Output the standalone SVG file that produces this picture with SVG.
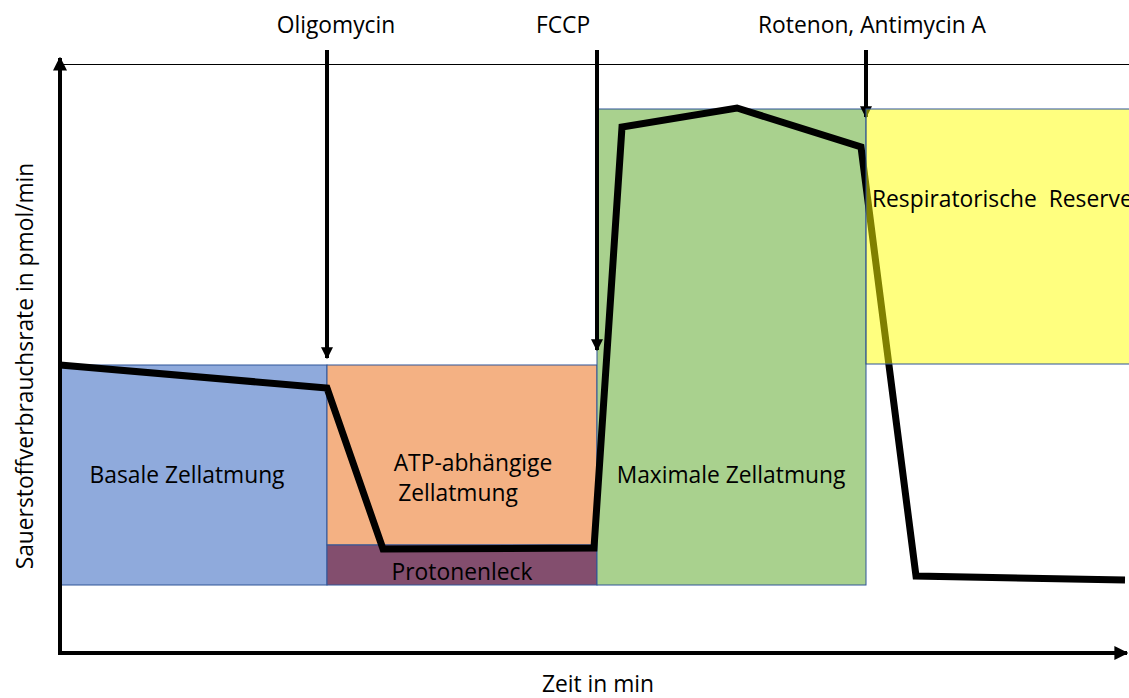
<svg xmlns="http://www.w3.org/2000/svg" width="1129" height="698" viewBox="0 0 1129 698">
<defs>
<style>
text{font-family:"Open Sans","Liberation Sans",sans-serif;font-size:22.8px;fill:#000}
.box{stroke:#2f5597;stroke-width:1}
.drug{stroke:#000;stroke-width:4;fill:none}
</style>
<marker id="ah" viewBox="0 0 10 10" refX="9" refY="5" markerWidth="3" markerHeight="3" orient="auto"><path d="M0,0L10,5L0,10z" fill="#000"/></marker>
<marker id="axh" viewBox="0 0 10 10" refX="9" refY="5" markerWidth="3.5" markerHeight="3.5" orient="auto"><path d="M0,0L10,5L0,10z" fill="#000"/></marker>
</defs>
<rect width="1129" height="698" fill="#fff"/>
<line x1="60" y1="64.5" x2="1129" y2="64.5" stroke="#000" stroke-width="1"/>
<g id="basal"><rect class="box" x="60" y="365" width="267" height="220" fill="#8faadc"/><text x="187" y="483" text-anchor="middle">Basale Zellatmung</text></g>
<g id="atp"><rect class="box" x="327" y="365" width="270" height="180" fill="#f4b183"/><text x="473" y="471" text-anchor="middle">ATP-abhängige</text><text x="458" y="501" text-anchor="middle">Zellatmung</text></g>
<g id="leck"><rect class="box" x="327" y="545" width="270" height="40" fill="#834e6e"/><text x="462" y="580" text-anchor="middle">Protonenleck</text></g>
<g id="maximal"><rect class="box" x="597" y="109" width="269" height="476" fill="#a9d18e"/><text x="731" y="483" text-anchor="middle">Maximale Zellatmung</text></g>
<g id="connectors">
<polyline points="60,365 327,388 383,549 594,548 622,127 737,108 861,147 916,576 1125,580" fill="none" stroke="#000" stroke-width="7" stroke-linejoin="miter"/>
<line class="drug" x1="327" y1="50" x2="327" y2="358" marker-end="url(#ah)"/>
<line class="drug" x1="597" y1="50" x2="597" y2="350" marker-end="url(#ah)"/>
<line class="drug" x1="866" y1="50" x2="866" y2="117" marker-end="url(#ah)"/>
<line x1="60" y1="653" x2="60" y2="58" stroke="#000" stroke-width="4" marker-end="url(#axh)"/>
<line x1="58" y1="653" x2="1127" y2="653" stroke="#000" stroke-width="4" marker-end="url(#axh)"/>
</g>
<g id="reserve"><rect x="866" y="109" width="270" height="255" fill="#ffff00" fill-opacity="0.5" stroke="#2f5597" stroke-width="1"/><text x="872" y="207" style="white-space:pre">Respiratorische  Reserve</text></g>
<g id="labels">
<text x="336" y="33" text-anchor="middle">Oligomycin</text>
<text x="563" y="33" text-anchor="middle">FCCP</text>
<text x="872" y="33" text-anchor="middle">Rotenon, Antimycin A</text>
<text x="598" y="692" text-anchor="middle">Zeit in min</text>
<text transform="translate(33,366) rotate(-90)" text-anchor="middle">Sauerstoffverbrauchsrate in pmol/min</text>
</g>
</svg>
